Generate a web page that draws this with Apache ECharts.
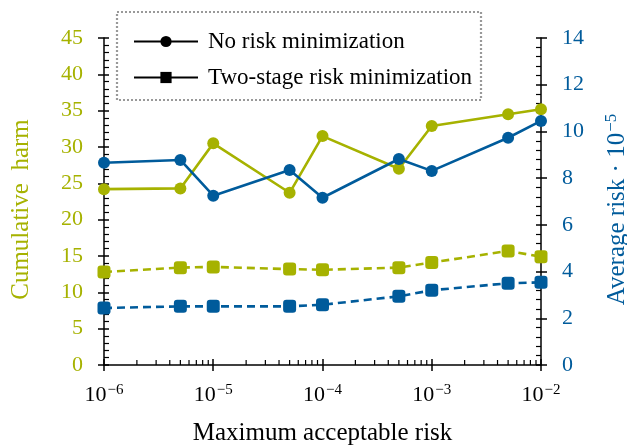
<!DOCTYPE html>
<html>
<head>
<meta charset="utf-8">
<script src="https://cdn.jsdelivr.net/npm/echarts@6/dist/echarts.min.js"></script>
<style>
  html, body { margin: 0; padding: 0; background: #fff; }
  #chart { width: 627px; height: 447px; }
</style>
</head>
<body>
<div id="chart"></div>
<script>
// Maximum acceptable risk levels (x, log scale)
const riskLevels = [1e-6, 5e-6, 1e-5, 5e-5, 1e-4, 5e-4, 1e-3, 5e-3, 1e-2];
// Cumulative harm (left axis)
const harmNoMin    = [24.2, 24.3, 30.5, 23.7, 31.5, 27.0, 32.9, 34.5, 35.2];
const harmTwoStage = [12.8, 13.4, 13.5, 13.2, 13.1, 13.4, 14.1, 15.7, 14.9];
// Average risk in units of 1e-5 (right axis)
const riskNoMin    = [8.66, 8.78, 7.25, 8.35, 7.16, 8.82, 8.31, 9.73, 10.45];
const riskTwoStage = [2.44, 2.51, 2.51, 2.51, 2.58, 2.94, 3.20, 3.50, 3.54];
// Axis ranges
const harmRange = [0, 45, 5];
const riskRange = [0, 14, 2];
const xRange = [1e-6, 1e-2];
const minorMultipliers = [2, 3, 4, 5, 6, 7, 8, 9];
const decades = [1e-6, 1e-5, 1e-4, 1e-3];
const legendNames = ['No risk minimization', 'Two-stage risk minimization'];

const OLIVE = '#a6b200';
const BLUE = '#005b9b';
const FONT = "'Liberation Serif', 'Times New Roman', serif";

// minor tick positions of the logarithmic x axis
const xMinor = [];
decades.forEach(d => minorMultipliers.forEach(m => xMinor.push([d * m, 0])));

const pair = (xs, ys) => xs.map((x, i) => [x, ys[i]]);

const gridRect = { left: 104, right: 86, top: 38, bottom: 82, outerBoundsMode: 'none', containLabel: false };

const supLabel = v => {
  const e = Math.round(Math.log10(v));
  return '{b|10}{s|' + (e < 0 ? '\u2212' + (-e) : e) + '}';
};

const chart = echarts.init(document.getElementById('chart'), null, { renderer: 'canvas' });

const yBase = (range, pos, grid) => ({
  type: 'value', gridIndex: grid, position: pos,
  min: range[0], max: range[1], interval: range[2],
  splitLine: { show: false }
});

chart.setOption({
  animation: false,
  textStyle: { fontFamily: FONT },
  grid: [Object.assign({}, gridRect), Object.assign({}, gridRect)],
  legend: {
    data: legendNames,
    orient: 'vertical',
    left: 128, top: 25,
    itemWidth: 64, itemHeight: 14, itemGap: 13,
    textStyle: { fontFamily: FONT, fontSize: 23, color: '#000', padding: [0, 0, 0, 5] }
  },
  graphic: [{
    type: 'rect', silent: true, z: 0,
    shape: { x: 117, y: 12, width: 364, height: 88 },
    style: { fill: 'none', stroke: '#999999', lineWidth: 2.2, lineDash: [2, 2] }
  }],
  xAxis: [{
    type: 'log', logBase: 10, gridIndex: 0,
    min: xRange[0], max: xRange[1],
    name: 'Maximum acceptable risk', nameLocation: 'middle', nameGap: 56,
    nameTextStyle: { fontFamily: FONT, fontSize: 25, color: '#000' },
    axisLine: { lineStyle: { color: '#000', width: 1.5 } },
    axisTick: { inside: true, length: 6, lineStyle: { color: '#000', width: 1.5 } },
    axisLabel: {
      margin: 18, formatter: supLabel,
      rich: {
        b: { fontFamily: FONT, fontSize: 22, color: '#000' },
        s: { fontFamily: FONT, fontSize: 15, color: '#000', padding: [0, 0, 10, 1] }
      }
    },
    splitLine: { show: false }
  }, {
    type: 'log', logBase: 10, gridIndex: 1,
    min: xRange[0], max: xRange[1],
    axisLine: { show: false },
    axisTick: { inside: false, length: 6, lineStyle: { color: '#000', width: 1.5 } },
    axisLabel: { show: false },
    splitLine: { show: false }
  }],
  yAxis: [
    Object.assign(yBase(harmRange, 'left', 0), {
      name: 'Cumulative  harm', nameLocation: 'middle', nameGap: 70, nameRotate: 90,
      nameTextStyle: { fontFamily: FONT, fontSize: 25, color: OLIVE, padding: [0, 16, 0, 0] },
      axisLine: { show: true, lineStyle: { color: '#000', width: 1.5 } },
      axisTick: { show: true, inside: true, length: 5, lineStyle: { color: '#000', width: 1.5 } },
      minorTick: { show: true, splitNumber: 5, length: 5, lineStyle: { color: '#000', width: 1.2 } },
      axisLabel: { margin: 21, fontFamily: FONT, fontSize: 22, color: OLIVE }
    }),
    Object.assign(yBase(riskRange, 'right', 0), {
      name: 'Average risk \u00b7 10{s|\u22125}', nameLocation: 'middle', nameGap: 62, nameRotate: 90,
      nameTextStyle: {
        fontFamily: FONT, fontSize: 25, color: BLUE, padding: [0, 16, 0, 0],
        rich: { s: { fontFamily: FONT, fontSize: 17, color: BLUE, padding: [0, 0, 12, 1] } }
      },
      axisLine: { show: true, lineStyle: { color: '#000', width: 1.5 } },
      axisTick: { show: true, inside: true, length: 5, lineStyle: { color: '#000', width: 1.5 } },
      minorTick: { show: true, splitNumber: 5, length: 5, lineStyle: { color: '#000', width: 1.2 } },
      axisLabel: { margin: 21, fontFamily: FONT, fontSize: 22, color: BLUE }
    }),
    Object.assign(yBase(harmRange, 'left', 1), {
      axisLine: { show: false },
      axisTick: { show: true, inside: false, length: 6, lineStyle: { color: '#000', width: 1.5 } },
      axisLabel: { show: false }
    }),
    Object.assign(yBase(riskRange, 'right', 1), {
      axisLine: { show: false },
      axisTick: { show: true, inside: false, length: 6, lineStyle: { color: '#000', width: 1.5 } },
      axisLabel: { show: false }
    })
  ],
  series: [
    // legend entries (black samples)
    { name: legendNames[0], type: 'line', data: [], symbol: 'circle', symbolSize: 12,
      itemStyle: { color: '#000' }, lineStyle: { color: '#000', width: 2.5 } },
    { name: legendNames[1], type: 'line', data: [], symbol: 'rect', symbolSize: 12,
      itemStyle: { color: '#000' }, lineStyle: { color: '#000', width: 2.5 } },
    // minor ticks on the log axis
    { type: 'custom', xAxisIndex: 0, yAxisIndex: 0, silent: true, clip: false, z: 3,
      data: xMinor,
      renderItem: (params, api) => {
        const p = api.coord([api.value(0), 0]);
        return { type: 'line', shape: { x1: p[0], y1: p[1], x2: p[0], y2: p[1] - 5 },
                 style: { stroke: '#000', lineWidth: 1.2 } };
      } },
    { type: 'line', xAxisIndex: 0, yAxisIndex: 0, data: pair(riskLevels, harmTwoStage),
      symbol: 'roundRect', symbolSize: 13, color: OLIVE,
      lineStyle: { width: 2.6, type: [8, 5] }, z: 4 },
    { type: 'line', xAxisIndex: 0, yAxisIndex: 1, data: pair(riskLevels, riskTwoStage),
      symbol: 'roundRect', symbolSize: 13, color: BLUE,
      lineStyle: { width: 2.6, type: [8, 5] }, z: 4 },
    { type: 'line', xAxisIndex: 0, yAxisIndex: 0, data: pair(riskLevels, harmNoMin),
      symbol: 'circle', symbolSize: 12, color: OLIVE,
      lineStyle: { width: 2.6 }, z: 5 },
    { type: 'line', xAxisIndex: 0, yAxisIndex: 1, data: pair(riskLevels, riskNoMin),
      symbol: 'circle', symbolSize: 12, color: BLUE,
      lineStyle: { width: 2.6 }, z: 6 }
  ]
});
</script>
</body>
</html>
